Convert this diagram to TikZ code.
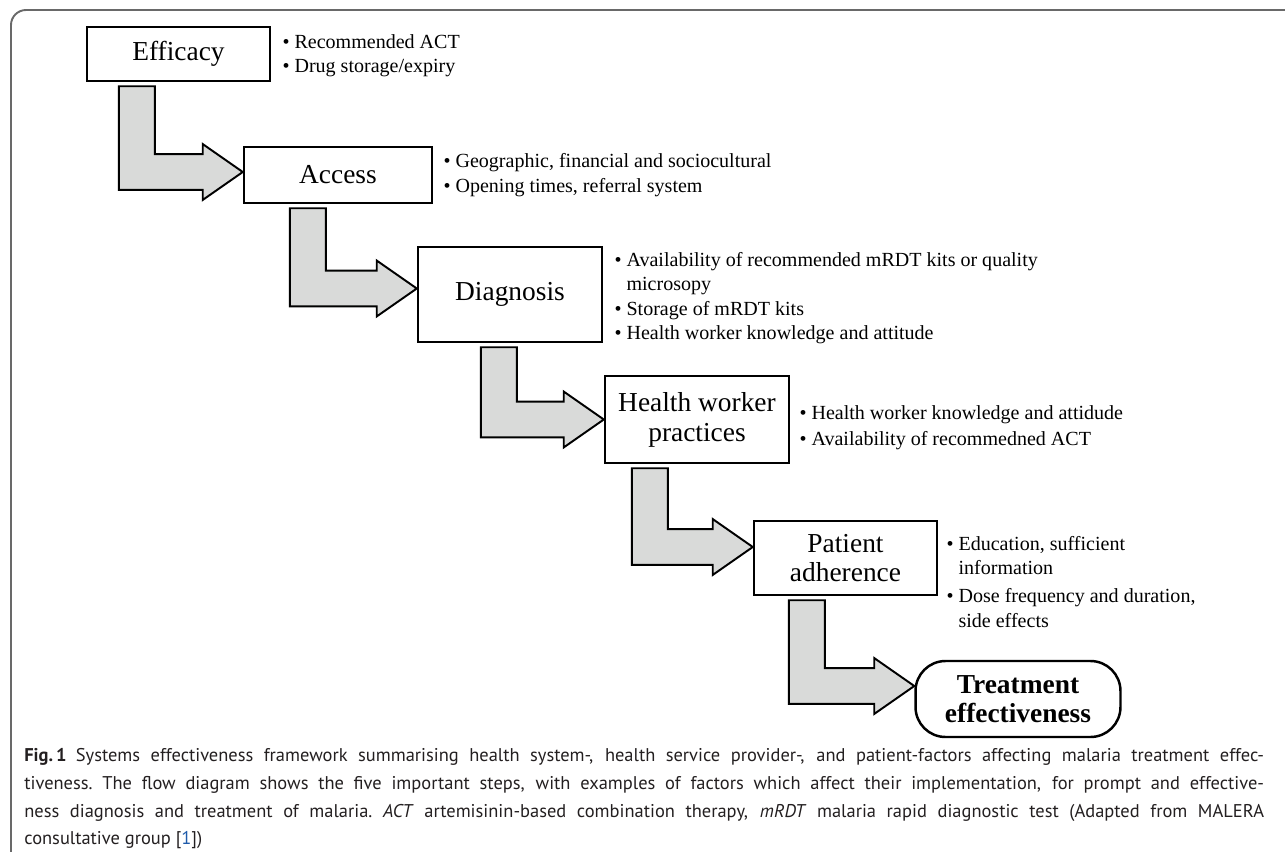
\documentclass[tikz,border=0pt]{standalone}
\usepackage{fontspec}
\setmainfont{Liberation Serif}
\newfontfamily\capfont{PT Sans}
\usepackage{tikz}
\usetikzlibrary{positioning, calc}
\definecolor{ArrowGray}{RGB}{217, 218, 217}
\definecolor{FrameGray}{RGB}{105, 105, 105}
\definecolor{CapText}{RGB}{35, 31, 32}
\definecolor{RefBlue}{RGB}{30, 90, 170}

% L-shaped block arrow: source node, target node, stem offset, tip offset (px)
\newcommand{\steparrow}[4]{%
  \draw[flowarrow] let \p1 = ($(#1.south west)+(#3,4)$), \p2 = ($(#2.west)+(0,#4)$) in
    (\x1,\y1) -- (\x1+20.5pt,\y1) -- (\x1+20.5pt,\y2+10.2pt) -- (\x2-22.8pt,\y2+10.2pt)
    -- (\x2-22.8pt,\y2+15.9pt) -- (\x2,\y2) -- (\x2-22.8pt,\y2-15.9pt)
    -- (\x2-22.8pt,\y2-10.2pt) -- (\x1,\y2-10.2pt) -- cycle;}

\begin{document}
\begin{tikzpicture}[x=0.02cm, y=-0.02cm,
    stepbox/.style={draw, line width=1.4pt, fill=white, align=center, inner sep=0pt,
      font=\fontsize{15.6}{17}\selectfont},
    bullets/.style={align=left, inner sep=0pt, font=\fontsize{11.4}{13.9}\selectfont},
    flowarrow/.style={draw=black, fill=ArrowGray, line width=1.1pt, line join=miter}]
    \useasboundingbox (0,0) rectangle (1285,852);

    % Frame
    \draw[FrameGray, line width=1.1pt, rounded corners=0.3cm] (11,900) -- (11,10) -- (1320,10);

    % Steps
    \node[stepbox, minimum width=3.66cm, minimum height=1.08cm] (eff) at (178.5,54) {Efficacy};
    \node[stepbox, minimum width=3.76cm, minimum height=1.12cm] (acc) at (338,175) {Access};
    \node[stepbox, minimum width=3.68cm, minimum height=1.9cm] (diag) at (510,294.5) {Diagnosis};
    \node[stepbox, minimum width=3.68cm, minimum height=1.74cm] (hwp) at (697,419.5) {Health worker\\practices};
    \node[stepbox, minimum width=3.66cm, minimum height=1.48cm] (pat) at (845.5,558) {Patient\\adherence};
    \node[stepbox, rounded corners=0.6cm, minimum width=4.1cm, minimum height=1.52cm,
      font=\fontsize{15.6}{16.5}\selectfont\bfseries] (eff2) at (1018,699) {Treatment\\effectiveness};

    % Factors
    \node[bullets, right=0.22cm of eff, yshift=-0.04cm] (effnotes) {\textbullet\ Recommended ACT\\
      \textbullet\ Drug storage/expiry};
    \node[bullets, right=0.2cm of acc] (accnotes) {\textbullet\ Geographic, financial and sociocultural\\
      \textbullet\ Opening times, referral system};
    \node[bullets, right=0.22cm of diag, yshift=-0.07cm] (diagnotes) {%
      \textbullet\ Availability of recommended mRDT kits or quality\\
      \hphantom{\textbullet\ }microsopy\\
      \textbullet\ Storage of mRDT kits\\
      \textbullet\ Health worker knowledge and attitude};
    \node[bullets, right=0.18cm of hwp, yshift=-0.17cm] (hwpnotes) {%
      \textbullet\ Health worker knowledge and attidude\\[1pt]
      \textbullet\ Availability of recommedned ACT};
    \node[bullets, right=0.16cm of pat, yshift=-0.48cm] (patnotes) {%
      \textbullet\ Education, sufficient\\
      \hphantom{\textbullet\ }information\\[2pt]
      \textbullet\ Dose frequency and duration,\\
      \hphantom{\textbullet\ }side effects};

    % Arrows
    \steparrow{eff}{acc}{33}{-3}
    \steparrow{acc}{diag}{47}{-6}
    \steparrow{diag}{hwp}{64}{0}
    \steparrow{hwp}{pat}{28}{-11}
    \steparrow{pat}{eff2}{36}{-13}

    % Caption
    \node[anchor=north west, text width=24.8cm, align=justify, inner sep=0pt, text=CapText,
      font=\capfont\fontsize{10.5}{15.8}\selectfont] (cap) at (24,748) {%
      \textbf{Fig.\,1}\enspace Systems effectiveness framework summarising health system-, health service provider-, and patient-factors affecting malaria treatment effec-\linebreak
      tiveness.\ The flow diagram shows the five important steps, with examples of factors which affect their implementation, for prompt and effective-\linebreak
      ness diagnosis and treatment of malaria.\ \textit{ACT} artemisinin-based combination therapy, \textit{mRDT} malaria rapid diagnostic test (Adapted from MALERA\linebreak
      consultative group [{\color{RefBlue}1}])};
\end{tikzpicture}
\end{document}
